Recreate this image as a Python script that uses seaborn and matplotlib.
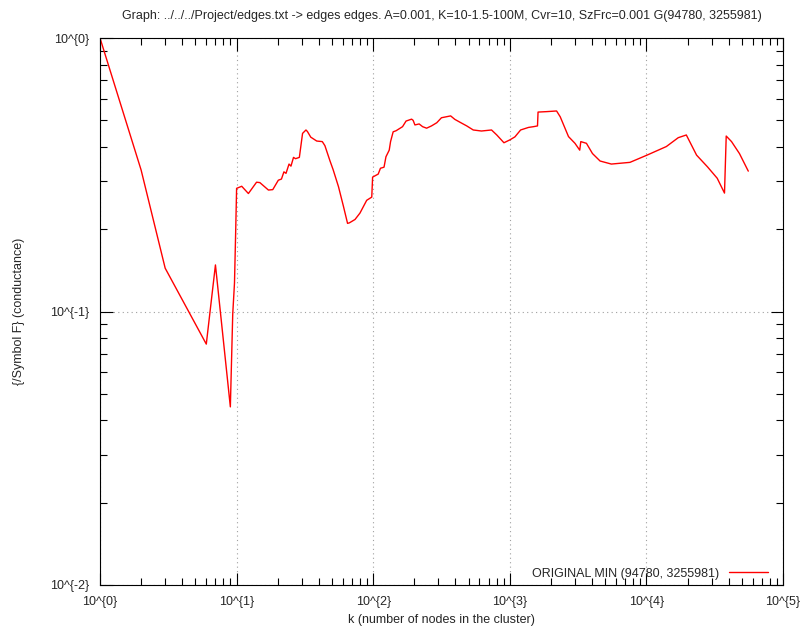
import matplotlib
matplotlib.use("Agg")
import matplotlib.pyplot as plt
import matplotlib.ticker as mticker
import seaborn as sns
import pandas as pd
import numpy as np

# data
k_values = [1, 2, 3, 6, 7, 9, 9.37, 9.65, 9.85, 10, 10.9, 12.2, 14.0, 14.8, 17.1, 18.4,
            20.2, 21.3, 22.2, 23.0, 24.2, 25, 26.1, 27, 28.8, 30.4, 32.2, 33, 34.9,
            38.6, 42.4, 44.3, 48.3, 50.9, 55.7, 60.6, 64.9, 67, 73.6, 80, 89.6, 97.6,
            99, 108.8, 113, 120, 124, 131, 134, 140, 147, 164, 174, 191, 196, 202,
            217, 230, 246, 267, 292, 316, 369, 396, 432, 484, 540, 620, 735, 803,
            906, 1000, 1090, 1200, 1370, 1490, 1595, 1610, 1860, 2200, 2340, 2690,
            3000, 3250, 3310, 3640, 4030, 4580, 5540, 7580, 10100, 14000, 17100,
            19600, 23300, 28000, 33000, 37300, 38400, 42000, 48000, 55700]
conductance = [1.0, 0.329, 0.144, 0.076, 0.148, 0.0448, 0.098, 0.127, 0.198, 0.282,
               0.287, 0.270, 0.297, 0.296, 0.278, 0.279, 0.302, 0.305, 0.324, 0.320,
               0.346, 0.340, 0.366, 0.362, 0.366, 0.448, 0.461, 0.455, 0.434, 0.420,
               0.418, 0.404, 0.355, 0.330, 0.286, 0.242, 0.210, 0.211, 0.217, 0.229,
               0.255, 0.262, 0.310, 0.318, 0.334, 0.337, 0.368, 0.389, 0.418, 0.454,
               0.458, 0.474, 0.497, 0.505, 0.500, 0.481, 0.485, 0.474, 0.468, 0.477,
               0.490, 0.511, 0.519, 0.504, 0.492, 0.477, 0.461, 0.457, 0.461, 0.442,
               0.414, 0.424, 0.435, 0.461, 0.471, 0.474, 0.477, 0.536, 0.538, 0.541,
               0.515, 0.436, 0.412, 0.389, 0.418, 0.412, 0.378, 0.355, 0.346, 0.351,
               0.373, 0.401, 0.432, 0.442, 0.373, 0.338, 0.307, 0.271, 0.438, 0.418,
               0.378, 0.326]
series_label = "ORIGINAL MIN (94780, 3255981)"
x_tick_vals = [1, 10, 100, 1000, 10000, 100000]
x_tick_labels = ["10^{0}", "10^{1}", "10^{2}", "10^{3}", "10^{4}", "10^{5}"]
y_tick_vals = [0.01, 0.1, 1]
y_tick_labels = ["10^{-2}", "10^{-1}", "10^{0}"]
title = ("Graph: ../../../Project/edges.txt -> edges edges. A=0.001, K=10-1.5-100M, "
         "Cvr=10, SzFrc=0.001 G(94780, 3255981)")

df = pd.DataFrame({"k": k_values, "phi": conductance, "series": series_label})

sns.set_style("white")
plt.rcParams["font.family"] = ["Liberation Sans", "DejaVu Sans"]
plt.rcParams["font.size"] = 9

fig = plt.figure(figsize=(8.01, 6.30), dpi=100)
ax = fig.add_axes([100 / 801, 1 - 585 / 630, 683 / 801, 547 / 630])

sns.lineplot(data=df, x="k", y="phi", hue="series", palette=["#ff0000"],
             estimator=None, sort=False, linewidth=1.0, ax=ax)

ax.set_xscale("log")
ax.set_yscale("log")
ax.set_xlim(1, 100000)
ax.set_ylim(0.01, 1)

ax.xaxis.set_major_locator(mticker.FixedLocator(x_tick_vals))
ax.xaxis.set_major_formatter(mticker.FixedFormatter(x_tick_labels))
ax.yaxis.set_major_locator(mticker.FixedLocator(y_tick_vals))
ax.yaxis.set_major_formatter(mticker.FixedFormatter(y_tick_labels))
ax.xaxis.set_minor_locator(mticker.LogLocator(base=10, subs=np.arange(2, 10), numticks=20))
ax.yaxis.set_minor_locator(mticker.LogLocator(base=10, subs=np.arange(2, 10), numticks=20))
ax.xaxis.set_minor_formatter(mticker.NullFormatter())
ax.yaxis.set_minor_formatter(mticker.NullFormatter())

ax.tick_params(which="both", direction="in", top=True, right=True, bottom=True,
               left=True, color="black", labelsize=9, width=0.8)
ax.tick_params(which="major", length=9, pad=8)
ax.tick_params(which="minor", length=4.7)

ax.grid(True, which="major", linestyle=(0, (1, 3)), color="#a0a0a0", linewidth=0.8)
for s in ax.spines.values():
    s.set_color("black")
    s.set_linewidth(0.8)

ax.set_xlabel("k (number of nodes in the cluster)", fontsize=9, labelpad=4)
ax.set_ylabel("{/Symbol F} (conductance)", fontsize=9, labelpad=18)
ax.set_title(title, fontsize=9, pad=14)

leg = ax.legend(loc="lower right", bbox_to_anchor=(1 - 9.5 / 683, 0.0),
                frameon=False, fontsize=9, handlelength=3.1,
                markerfirst=False, borderaxespad=0.0, borderpad=0.44)

fig.savefig("out.png", dpi=100)
